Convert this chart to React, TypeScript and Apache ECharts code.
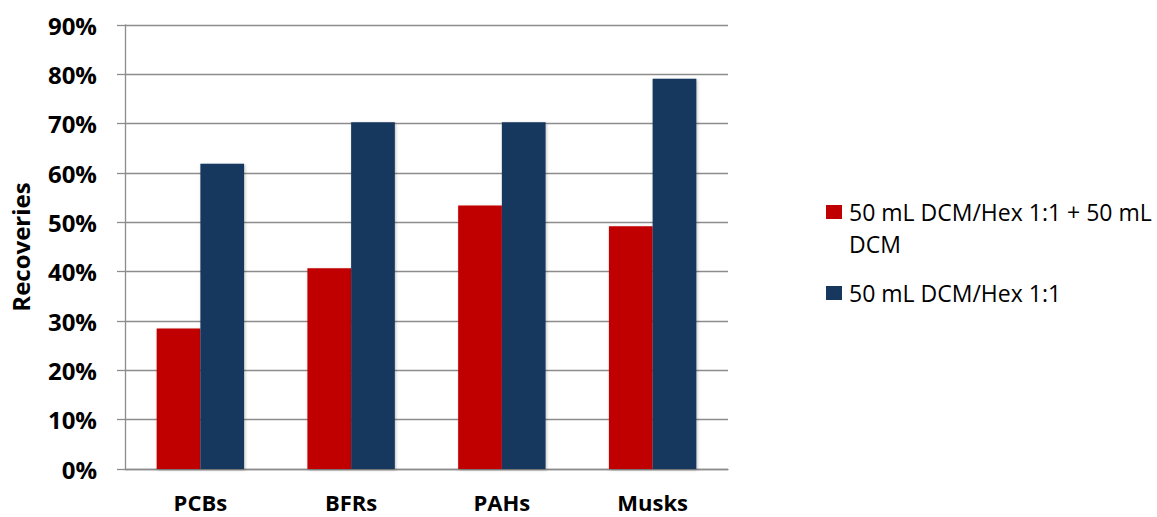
import React, { useEffect, useRef } from "react";
import * as echarts from "echarts";

// Recovery (%) per compound class for two extraction solvent schemes
const categories = ["PCBs", "BFRs", "PAHs", "Musks"];
const seriesNames = ["50 mL DCM/Hex 1:1 + 50 mL DCM", "50 mL DCM/Hex 1:1"];
const dcmHexPlusDcm = [28.5, 40.7, 53.4, 49.2];
const dcmHexOnly = [61.9, 70.3, 70.3, 79.1];
const yTicks = [0, 10, 20, 30, 40, 50, 60, 70, 80, 90];

const RED = "#C00000";
const NAVY = "#17375E";
const GRID_GRAY = "#8C8C8C";

export default function App() {
  const ref = useRef<HTMLDivElement>(null);

  useEffect(() => {
    if (!ref.current) return;
    const chart = echarts.init(ref.current, undefined, { renderer: "svg" });

    const barShadow = {
      shadowColor: "rgba(0,0,0,0.25)",
      shadowBlur: 3,
      shadowOffsetX: 1,
      shadowOffsetY: 1,
    };

    chart.setOption({
      animation: false,
      backgroundColor: "#ffffff",
      textStyle: { fontFamily: "Open Sans" },
      grid: { left: 125, right: 429, top: 25, bottom: 48 },
      legend: {
        orient: "vertical",
        left: 826,
        top: 164,
        padding: 0,
        itemGap: 17,
        itemWidth: 16,
        itemHeight: 14,
        icon: "rect",
        data: seriesNames,
        // long entry wraps onto a second line; the leading blank line keeps
        // the swatch level with the first line of text
        formatter: (name: string) =>
          name === seriesNames[0] ? "\n50 mL DCM/Hex 1:1 + 50 mL\nDCM" : name,
        textStyle: {
          fontFamily: "Open Sans",
          fontSize: 23,
          color: "#000",
          lineHeight: 32,
          padding: [0, 0, 0, 2],
        },
      },
      xAxis: {
        type: "category",
        data: categories,
        axisLine: { show: true, lineStyle: { color: GRID_GRAY, width: 1.3 } },
        axisTick: { show: false },
        axisLabel: {
          color: "#000",
          fontWeight: "bold",
          fontSize: 22,
          fontFamily: "Open Sans",
          lineHeight: 20,
          margin: 23,
        },
      },
      yAxis: {
        type: "value",
        min: yTicks[0],
        max: yTicks[yTicks.length - 1],
        interval: 10,
        name: "Recoveries",
        nameLocation: "middle",
        nameGap: 93,
        nameRotate: 90,
        nameTextStyle: {
          color: "#000",
          fontWeight: "bold",
          fontSize: 24,
          fontFamily: "Open Sans",
        },
        axisLine: { show: true, lineStyle: { color: GRID_GRAY, width: 1.3 } },
        axisTick: {
          show: true,
          length: 8,
          lineStyle: { color: GRID_GRAY, width: 1.3 },
        },
        axisLabel: {
          formatter: "{value}%",
          color: "#000",
          fontWeight: "bold",
          fontSize: 24,
          fontFamily: "Open Sans",
          margin: 28,
        },
        splitLine: { show: true, lineStyle: { color: GRID_GRAY, width: 1.3 } },
      },
      series: [
        {
          name: seriesNames[0],
          type: "bar",
          data: dcmHexPlusDcm,
          barGap: "0%",
          barCategoryGap: "42%",
          itemStyle: { color: RED, ...barShadow },
        },
        {
          name: seriesNames[1],
          type: "bar",
          data: dcmHexOnly,
          barGap: "0%",
          barCategoryGap: "42%",
          itemStyle: { color: NAVY, ...barShadow },
        },
      ],
    });

    return () => chart.dispose();
  }, []);

  return (
    <div
      ref={ref}
      style={{ position: "absolute", left: 0, top: 0, width: 1157, height: 517 }}
    />
  );
}
